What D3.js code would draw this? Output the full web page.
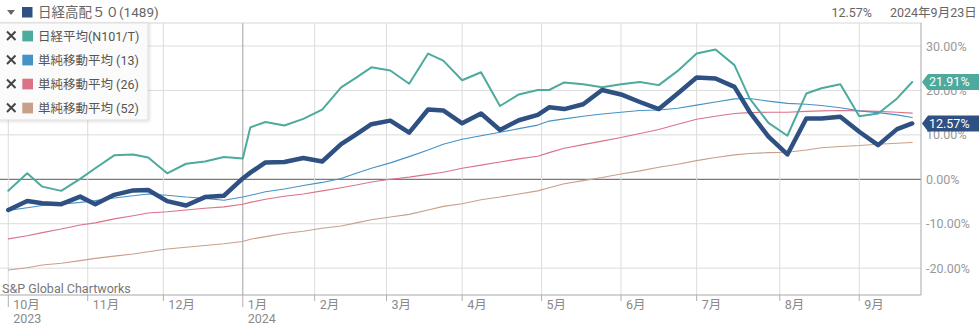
<!DOCTYPE html>
<html>
<head>
<meta charset="utf-8">
<script src="https://cdn.jsdelivr.net/npm/d3@7"></script>
<style>
  html, body { margin: 0; padding: 0; background: #fff; }
  svg { display: block; font-family: Roboto, "Noto Sans CJK JP", sans-serif; }
</style>
</head>
<body>
<svg id="chart" width="979" height="325"></svg>
<script>
// Weekly observation dates (Mondays)
const weeks = [
  "2023-10-02","2023-10-09","2023-10-16","2023-10-23","2023-10-30","2023-11-06","2023-11-13","2023-11-20","2023-11-27",
  "2023-12-04","2023-12-11","2023-12-18","2023-12-25","2024-01-01","2024-01-08","2024-01-15","2024-01-22","2024-01-29",
  "2024-02-05","2024-02-12","2024-02-19","2024-02-26","2024-03-04","2024-03-11","2024-03-18","2024-03-25","2024-04-01",
  "2024-04-08","2024-04-15","2024-04-22","2024-04-29","2024-05-06","2024-05-13","2024-05-20","2024-05-27","2024-06-03",
  "2024-06-10","2024-06-17","2024-06-24","2024-07-01","2024-07-08","2024-07-15","2024-07-22","2024-07-29","2024-08-05",
  "2024-08-12","2024-08-19","2024-08-26","2024-09-02","2024-09-09","2024-09-16","2024-09-23"
];

// Tokyo market holidays (the axis runs on trading days)
const holidays = [
  "2023-10-09","2023-11-03","2023-11-23","2024-01-01","2024-01-02","2024-01-03","2024-01-08",
  "2024-02-12","2024-02-23","2024-03-20","2024-04-29","2024-05-03","2024-05-06","2024-07-15",
  "2024-08-12","2024-09-16","2024-09-23"
];

// Cumulative return, % (日経高配５０)
const highDividend50 = [
  -6.9, -4.9, -5.4, -5.6, -3.9, -5.6, -3.5, -2.5, -2.4, -4.9, -5.9, -4.0, -3.7, 0.2, 1.5, 3.8, 3.9, 4.8,
  4.0, 7.9, 10.1, 12.4, 13.2, 10.5, 15.7, 15.5, 12.6, 14.8, 11.1, 13.3, 14.5, 16.2, 15.8, 16.9, 20.1,
  19.1, 17.4, 15.8, 19.3, 22.9, 22.7, 20.8, 15.2, 9.6, 5.6, 13.7, 13.7, 14.1, 10.7, 7.7, 11.3, 12.57
];
// 日経平均
const nikkei = [
  -2.6, 1.35, -1.65, -2.6, 0.1, 2.5, 5.4, 5.6, 4.9, 1.35, 3.5, 4.0, 5.0, 4.7, 11.7, 12.9, 12.1, 13.6,
  15.7, 20.7, 22.9, 25.2, 24.5, 21.5, 28.3, 26.7, 22.3, 24.1, 16.5, 19.1, 20.1, 20.1, 21.8, 21.4, 20.7,
  21.4, 21.9, 21.2, 24.4, 28.3, 29.2, 25.7, 18.2, 12.7, 9.8, 19.3, 20.5, 21.4, 14.2, 14.8, 18.2, 21.91
];
// Simple moving averages
const sma13 = [
  -7.0, -6.4, -5.9, -5.6, -5.2, -4.8, -4.2, -3.7, -3.3, -3.6, -4.0, -4.3, -4.7, -4.0, -3.6, -2.8, -2.2, -1.4,
  -0.7, 0.2, 1.35, 2.5, 3.7, 5.1, 6.6, 7.9, 9.0, 9.8, 10.6, 11.4, 12.2, 13.1, 13.6, 14.2, 14.7,
  15.1, 15.5, 15.6, 16.0, 16.7, 17.4, 18.1, 18.2, 17.6, 17.1, 16.9, 16.6, 16.1, 15.4, 15.0, 14.5, 13.9
];
const sma26 = [
  -13.4, -12.7, -12.0, -11.2, -10.3, -9.8, -8.9, -8.2, -7.6, -7.3, -6.9, -6.5, -6.2, -5.6, -5.2, -4.5, -3.8, -3.3,
  -2.6, -1.9, -1.3, -0.6, 0.0, 0.5, 1.1, 1.6, 2.5, 3.2, 3.9, 4.6, 5.2, 6.0, 7.0, 7.8, 8.6,
  9.4, 10.3, 11.2, 12.4, 13.5, 14.2, 14.8, 15.0, 15.1, 15.1, 15.3, 15.4, 15.5, 15.4, 15.3, 15.1, 14.9
];
const sma52 = [
  -20.4, -19.9, -19.3, -18.9, -18.3, -17.8, -17.3, -16.8, -16.3, -15.7, -15.3, -14.9, -14.5, -14.0, -13.5, -12.9, -12.2, -11.7,
  -11.0, -10.5, -9.8, -9.1, -8.5, -7.9, -6.9, -6.1, -5.5, -4.6, -4.0, -3.3, -2.6, -1.9, -1.0, -0.3, 0.4,
  1.2, 1.9, 2.7, 3.4, 4.2, 4.9, 5.5, 5.8, 6.0, 6.1, 6.6, 7.1, 7.4, 7.6, 7.9, 8.1, 8.3
];

const yTicks = [30, 20, 10, 0, -10, -20];
const monthStarts = ["2023-10-01","2023-11-01","2023-12-01","2024-01-01","2024-02-01","2024-03-01",
                     "2024-04-01","2024-05-01","2024-06-01","2024-07-01","2024-08-01","2024-09-01"];
const monthLabels = ["10月","11月","12月","1月","2月","3月","4月","5月","6月","7月","8月","9月"];
const yearLabels = { "2023-10-01": "2023", "2024-01-01": "2024" };

const legendItems = [
  { name: "日経平均(N101/T)", color: "#4daa9d" },
  { name: "単純移動平均 (13)", color: "#4593c6" },
  { name: "単純移動平均 (26)", color: "#da7388" },
  { name: "単純移動平均 (52)", color: "#c99f8a" }
];

const series = [
  { values: sma52, color: "#c99f8a", width: 1.1 },
  { values: sma26, color: "#da7388", width: 1.1 },
  { values: sma13, color: "#4593c6", width: 1.1 },
  { values: nikkei, color: "#4daa9d", width: 2 },
  { values: highDividend50, color: "#2e5082", width: 4.5 }
];

// ---- trading-day calendar ----
const parse = d3.timeParse("%Y-%m-%d");
const fmt = d3.timeFormat("%Y-%m-%d");
const holidaySet = new Set(holidays);
const tradingDays = d3.timeDay.range(parse("2023-10-02"), parse("2024-10-01"))
  .filter(d => d.getDay() !== 0 && d.getDay() !== 6 && !holidaySet.has(fmt(d)));
const tradingTimes = tradingDays.map(t => +t);
// index of the first trading day on or after a date
function tradeIndex(s) {
  return d3.bisectLeft(tradingTimes, +parse(s));
}

const svg = d3.select("#chart");
const plot = { left: 0, right: 921, top: 23, bottom: 295 };

const x = d3.scaleLinear().domain([0, 239]).range([8.3, 912.2]);
const y = d3.scaleLinear().domain([-26.04, 35.18]).range([plot.bottom, plot.top]);

const grey = "#8a8a8a";

// horizontal gridlines
svg.append("g").selectAll("line").data(yTicks).join("line")
  .attr("x1", plot.left).attr("x2", plot.right)
  .attr("y1", d => y(d)).attr("y2", d => y(d))
  .attr("stroke", d => d === 0 ? "#7a7a7a" : "#dcdcdc")
  .attr("stroke-width", d => d === 0 ? 1.3 : 1);

// vertical month gridlines
const months = monthStarts.map((m, i) => ({ date: m, label: monthLabels[i], pos: x(tradeIndex(m)), year: yearLabels[m] }));
svg.append("g").selectAll("line").data(months).join("line")
  .attr("x1", d => d.pos).attr("x2", d => d.pos)
  .attr("y1", plot.top).attr("y2", plot.bottom)
  .attr("stroke", d => d.date === "2024-01-01" ? "#a0a0a0" : "#dcdcdc");

// frame: top line, right axis, bottom axis
svg.append("line").attr("x1", plot.left).attr("x2", plot.right).attr("y1", plot.top).attr("y2", plot.top).attr("stroke", "#d6d6d6");
svg.append("line").attr("x1", plot.right).attr("x2", plot.right).attr("y1", plot.top).attr("y2", plot.bottom).attr("stroke", "#a8a8a8");
svg.append("line").attr("x1", plot.left).attr("x2", plot.right).attr("y1", plot.bottom).attr("y2", plot.bottom).attr("stroke", "#a8a8a8");

// x ticks and labels
const xg = svg.append("g");
xg.selectAll("line").data(months).join("line")
  .attr("x1", d => d.pos).attr("x2", d => d.pos)
  .attr("y1", plot.bottom).attr("y2", d => d.year ? plot.bottom + 12 : plot.bottom + 6)
  .attr("stroke", "#b0b0b0");
xg.selectAll("text.m").data(months).join("text").attr("class", "m")
  .attr("x", d => d.pos + 5).attr("y", 309)
  .attr("font-size", 12.5).attr("fill", grey).text(d => d.label);
xg.selectAll("text.y").data(months.filter(d => d.year)).join("text").attr("class", "y")
  .attr("x", d => d.pos + 5).attr("y", 323)
  .attr("font-size", 12.5).attr("fill", grey).text(d => d.year);

// y labels on the right
svg.append("g").selectAll("text").data(yTicks).join("text")
  .attr("x", 926).attr("y", d => y(d) + 4.5)
  .attr("font-size", 12.5).attr("fill", "#999").text(d => d.toFixed(2) + "%");

// watermark
svg.append("text").attr("x", 2).attr("y", 293).attr("font-size", 12.5).attr("fill", "#777")
  .text("S&P Global Chartworks");

// series lines
const clipId = "plotclip";
svg.append("clipPath").attr("id", clipId).append("rect")
  .attr("x", plot.left).attr("y", plot.top).attr("width", plot.right - plot.left).attr("height", plot.bottom - plot.top);
const line = d3.line().x((d, i) => x(tradeIndex(weeks[i]))).y(d => y(d));
svg.append("g").attr("clip-path", `url(#${clipId})`).selectAll("path").data(series).join("path")
  .attr("d", d => line(d.values))
  .attr("fill", "none")
  .attr("stroke", d => d.color)
  .attr("stroke-width", d => d.width)
  .attr("stroke-linejoin", "round")
  .attr("stroke-linecap", "round");

// last-value flags on the right axis (drawn over the axis labels)
const flags = [
  { value: nikkei[nikkei.length - 1], color: "#4daa9d" },
  { value: highDividend50[highDividend50.length - 1], color: "#2e5082" }
];
const fg = svg.append("g");
flags.forEach(f => {
  const cy = y(f.value);
  const h = 16;
  fg.append("path")
    .attr("d", `M922,${cy} L928,${cy - h / 2} L985,${cy - h / 2} L985,${cy + h / 2} L928,${cy + h / 2} Z`)
    .attr("fill", f.color);
  fg.append("text").attr("x", 929).attr("y", cy + 4.5)
    .attr("font-size", 12.5).attr("fill", "#fff").text(f.value.toFixed(2) + "%");
});

// header
const hdr = svg.append("g");
hdr.append("path").attr("d", "M7,10 L15,10 L11,15 Z").attr("fill", "#666");
hdr.append("rect").attr("x", 22).attr("y", 7).attr("width", 10.5).attr("height", 10.5).attr("fill", "#2e5082");
hdr.append("text").attr("x", 38).attr("y", 17).attr("font-size", 13.5).attr("fill", "#666")
  .text("日経高配５０(1489)");
hdr.append("text").attr("x", 872).attr("y", 17).attr("text-anchor", "end").attr("font-size", 12.5).attr("fill", "#666")
  .text(highDividend50[highDividend50.length - 1].toFixed(2) + "%");
hdr.append("text").attr("x", 890).attr("y", 17).attr("font-size", 12.5).attr("fill", "#666")
  .text("2024年9月23日");

// legend panel
const defs = svg.append("defs");
const sh = defs.append("filter").attr("id", "legshadow").attr("x", "-10%").attr("y", "-10%").attr("width", "130%").attr("height", "130%");
sh.append("feDropShadow").attr("dx", 1).attr("dy", 1).attr("stdDeviation", 1.5).attr("flood-color", "#000").attr("flood-opacity", 0.15);
const lg = svg.append("g");
lg.append("rect").attr("x", -2).attr("y", 23).attr("width", 150).attr("height", 97)
  .attr("fill", "#fbfbfb").attr("stroke", "#dedede").attr("filter", "url(#legshadow)");
const li = lg.selectAll("g.item").data(legendItems).join("g").attr("class", "item")
  .attr("transform", (d, i) => `translate(0,${36 + i * 24})`);
li.append("path").attr("d", "M7,-4.5 L15.5,4 M15.5,-4.5 L7,4")
  .attr("stroke", "#444").attr("stroke-width", 2);
li.append("rect").attr("x", 22.3).attr("y", -5.3).attr("width", 10.7).attr("height", 10.7).attr("fill", d => d.color);
li.append("text").attr("x", 38).attr("y", 5).attr("font-size", 12.5).attr("fill", "#555").text(d => d.name);
</script>
</body>
</html>
